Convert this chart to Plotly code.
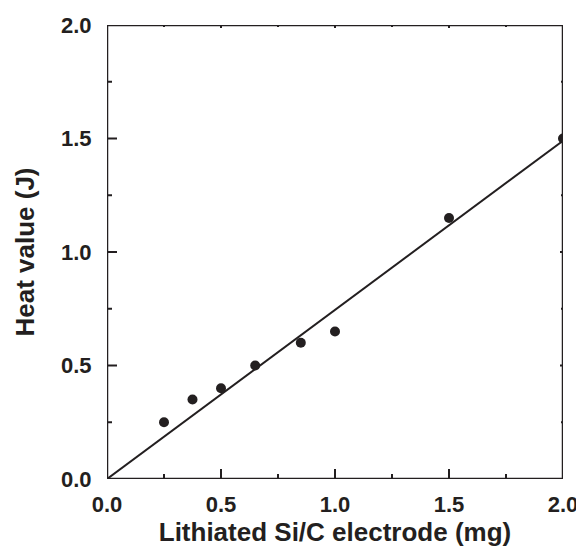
import plotly.graph_objects as go

mass_mg = [0.25, 0.375, 0.5, 0.65, 0.85, 1.0, 1.5, 2.0]
heat_j = [0.25, 0.35, 0.40, 0.50, 0.60, 0.65, 1.15, 1.50]
fit_x = [0.0, 2.0]
fit_y = [0.0, 1.49]
tick_vals = [0.0, 0.5, 1.0, 1.5, 2.0]
tick_text = ["0.0", "0.5", "1.0", "1.5", "2.0"]
minor_vals = [0.25, 0.75, 1.25, 1.75]
axis_range = [0.0, 2.0]

ink = "#231f20"
font_family = "Liberation Sans, Arial, sans-serif"
clear = "rgba(0,0,0,0)"

W, H = 576, 555
M = dict(l=107, r=13, t=25, b=76)
# data units per pixel, from the axis range and the plot-area size
ux = (axis_range[1] - axis_range[0]) / (W - M["l"] - M["r"])
uy = (axis_range[1] - axis_range[0]) / (H - M["t"] - M["b"])
lo, hi = axis_range

fig = go.Figure()

# frame
fig.add_trace(go.Scatter(x=[lo, hi, hi, lo, lo], y=[lo, lo, hi, hi, lo], mode="lines",
                         line=dict(color=ink, width=2.5), cliponaxis=False,
                         showlegend=False, hoverinfo="skip"))

# inward ticks on all four sides
tx, ty = [], []
for vals, length, top_len in ((tick_vals, 10, 3), (minor_vals, 5, 2)):
    for v in vals:
        tx += [v, v, None, v, v, None]
        ty += [lo, lo + length * uy, None, hi, hi - top_len * uy, None]
        tx += [lo, lo + length * ux, None, hi, hi - top_len * ux, None]
        ty += [v, v, None, v, v, None]
fig.add_trace(go.Scatter(x=tx, y=ty, mode="lines", line=dict(color=ink, width=2),
                         cliponaxis=False, showlegend=False, hoverinfo="skip",
                         connectgaps=False))

fig.add_trace(go.Scatter(x=fit_x, y=fit_y, mode="lines",
                         line=dict(color=ink, width=2), showlegend=False))
fig.add_trace(go.Scatter(x=mass_mg, y=heat_j, mode="markers",
                         marker=dict(color=ink, size=10), showlegend=False))


def label_axis(title_text, standoff, ticklen):
    # carries tick labels and title; its own ticks are transparent spacers
    return dict(
        range=axis_range,
        tickmode="array",
        tickvals=tick_vals,
        ticktext=["<b>%s</b>" % t for t in tick_text],
        ticks="outside",
        ticklen=ticklen,
        tickcolor=clear,
        showline=False,
        showgrid=False,
        zeroline=False,
        automargin=False,
        ticklabeloverflow="allow",
        tickfont=dict(family=font_family, size=22, color=ink),
        title=dict(text="<b>%s</b>" % title_text,
                   font=dict(family=font_family, size=26, color=ink),
                   standoff=standoff),
    )


fig.update_layout(
    width=W, height=H,
    margin=M,
    paper_bgcolor="white",
    plot_bgcolor="white",
    xaxis=label_axis("Lithiated Si/C electrode (mg)", 5, 6),
    yaxis=label_axis("Heat value (J)", 18, 10),
)

fig.write_html("out.html")
